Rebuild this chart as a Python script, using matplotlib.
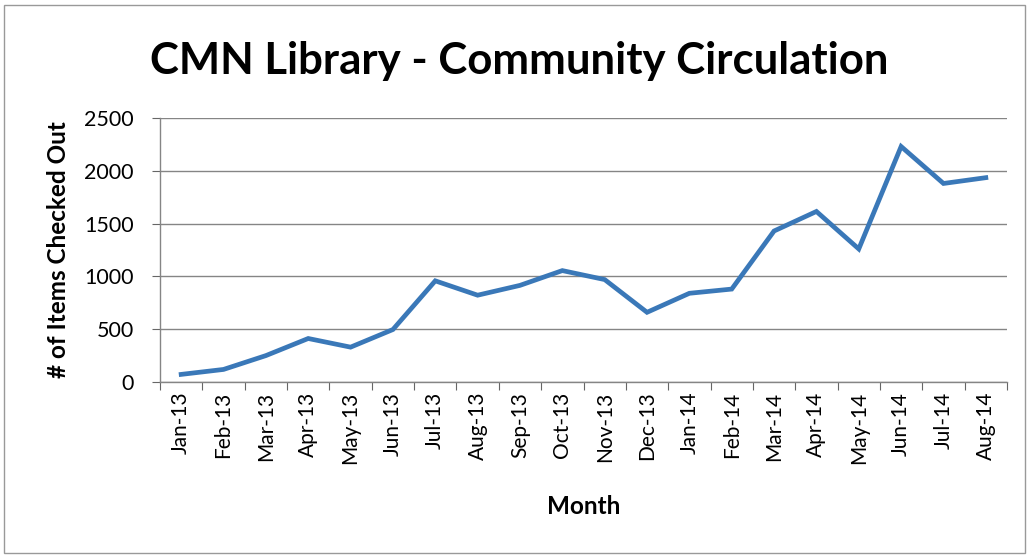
import matplotlib
matplotlib.use('Agg')
import matplotlib.pyplot as plt
from matplotlib.patches import Rectangle

months = ['Jan-13', 'Feb-13', 'Mar-13', 'Apr-13', 'May-13', 'Jun-13', 'Jul-13',
          'Aug-13', 'Sep-13', 'Oct-13', 'Nov-13', 'Dec-13', 'Jan-14', 'Feb-14',
          'Mar-14', 'Apr-14', 'May-14', 'Jun-14', 'Jul-14', 'Aug-14']
items = [72, 119, 250, 412, 330, 497, 958, 822, 915, 1055,
         970, 660, 840, 880, 1430, 1615, 1260, 2230, 1880, 1935]
y_ticks = [0, 500, 1000, 1500, 2000, 2500]

plt.rcParams['font.family'] = ['Lato', 'DejaVu Sans']

fig = plt.figure(figsize=(10.28, 5.57), dpi=100)
ax = fig.add_axes([160/1028, 1-382/557, 847/1028, 264/557])

x = list(range(len(months)))
ax.plot(x, items, color='#3a78b8', linewidth=3.4, solid_joinstyle='miter')

ax.set_xlim(-0.5, len(months)-0.5)
ax.set_ylim(0, 2500)
ax.set_yticks(y_ticks)
ax.set_xticks([i - 0.5 for i in range(len(months)+1)], minor=False)
ax.set_xticklabels([])
ax.set_xticks(x, minor=True)
ax.set_xticklabels(months, minor=True, rotation=90, fontsize=15)
ax.tick_params(axis='x', which='minor', length=0, pad=7)
ax.tick_params(axis='x', which='major', length=6, color='#666666', direction='out')
ax.tick_params(axis='y', length=6, color='#666666', labelsize=15.5, pad=13)
ax.grid(axis='y', color='#858585', linewidth=1.0)
ax.set_axisbelow(True)
for s in ['top', 'right']:
    ax.spines[s].set_visible(False)
for s in ['left', 'bottom']:
    ax.spines[s].set_color('#858585')
    ax.spines[s].set_linewidth(1.0)

ax.set_ylabel('# of Items Checked Out', fontsize=17.5, fontweight='bold', labelpad=10)
ax.set_xlabel('Month', fontsize=17.5, fontweight='bold', labelpad=22)
fig.text(0.505, 0.89, 'CMN Library - Community Circulation', fontsize=31.5,
         fontweight='bold', ha='center', va='center')

fig.patches.append(Rectangle((4/1028, 4/557), 1021/1028, 548/557, transform=fig.transFigure,
                             fill=False, edgecolor='#999999', linewidth=1.0))

fig.savefig('out.png', dpi=100)
